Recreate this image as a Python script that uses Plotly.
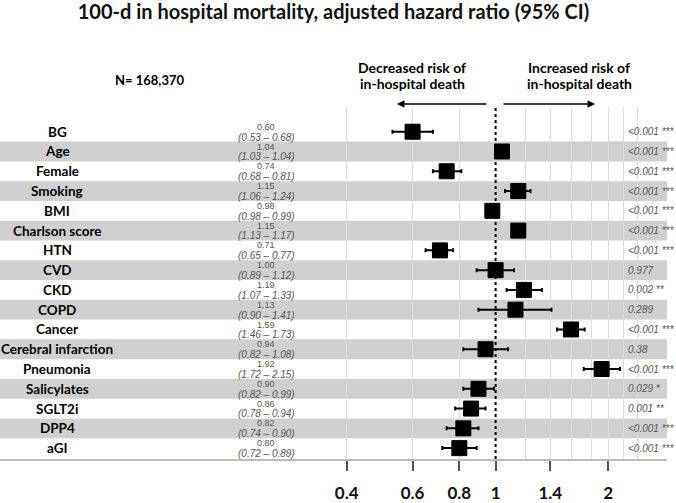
import plotly.graph_objects as go

labels = ["BG", "Age", "Female", "Smoking", "BMI", "Charlson score", "HTN", "CVD", "CKD",
          "COPD", "Cancer", "Cerebral infarction", "Pneumonia", "Salicylates", "SGLT2i", "DPP4", "aGI"]
hr = [0.60, 1.04, 0.74, 1.15, 0.98, 1.15, 0.71, 1.00, 1.19, 1.13, 1.59, 0.94, 1.92, 0.90, 0.86, 0.82, 0.80]
lo = [0.53, 1.03, 0.68, 1.06, 0.98, 1.13, 0.65, 0.89, 1.07, 0.90, 1.46, 0.82, 1.72, 0.82, 0.78, 0.74, 0.72]
hi = [0.68, 1.04, 0.81, 1.24, 0.99, 1.17, 0.77, 1.12, 1.33, 1.41, 1.73, 1.08, 2.15, 0.99, 0.94, 0.90, 0.89]
pvals = ["<0.001 ***", "<0.001 ***", "<0.001 ***", "<0.001 ***", "<0.001 ***", "<0.001 ***", "<0.001 ***",
         "0.977", "0.002 **", "0.289", "<0.001 ***", "0.38", "<0.001 ***", "0.029 *", "0.001 **",
         "<0.001 ***", "<0.001 ***"]
tick_vals = [0.4, 0.6, 0.8, 1, 1.4, 2]
tick_text = ["0.4", "0.6", "0.8", "1", "1.4", "2"]
grid_vals = [0.4, 0.6, 0.8, 1.2, 1.4, 1.6, 1.8, 2, 2.2, 2.4]

title = "100-d in hospital mortality, adjusted hazard ratio (95% CI)"
n_text = "N= 168,370"

rows = list(range(len(labels)))
BOLD = "Lato"
FIG_W, FIG_H = 676, 503
L, R, T, B = 0, 9, 107, 40
PW = FIG_W - L - R
PH = FIG_H - T - B

def px_x(px):
    return (px - L) / PW

def px_y(py):
    return (FIG_H - B - py) / PH

fig = go.Figure()
fig.add_trace(go.Scatter(
    x=hr, y=rows, mode="markers",
    marker=dict(symbol="square", size=15, color="black", line=dict(color="black", width=1)),
    error_x=dict(type="data", symmetric=False,
                 array=[h - m for h, m in zip(hi, hr)],
                 arrayminus=[m - l for m, l in zip(hr, lo)],
                 color="black", thickness=2, width=2),
    showlegend=False, hoverinfo="skip",
))

shapes = []
for i in rows:
    if i % 2 == 1:
        shapes.append(dict(type="rect", xref="paper", yref="y", x0=0, x1=1, y0=i - 0.5, y1=i + 0.5,
                           fillcolor="#d0d0d0", line=dict(width=0), layer="below"))
shapes.append(dict(type="line", xref="x", yref="paper", x0=1, x1=1, y0=0, y1=1,
                   line=dict(color="black", width=2, dash="dot"), layer="between"))

ann = []
for i in rows:
    ann.append(dict(x=px_x(57), y=i, xref="paper", yref="y", text=labels[i], showarrow=False,
                    xanchor="center", yanchor="middle",
                    font=dict(family=BOLD, size=13.5, color="black", weight="bold")))
    ann.append(dict(x=px_x(266), y=i - 0.25, xref="paper", yref="y", text=f"{hr[i]:.2f}",
                    showarrow=False, xanchor="center", yanchor="middle", borderpad=0,
                    font=dict(family="Liberation Sans", size=9, color="#555")))
    ann.append(dict(x=px_x(266), y=i + 0.27, xref="paper", yref="y",
                    text=f"({lo[i]:.2f} \u2013 {hi[i]:.2f})",
                    showarrow=False, xanchor="center", yanchor="middle", borderpad=0,
                    font=dict(family="Liberation Sans", size=10, color="#555", style="italic")))
    ann.append(dict(x=px_x(626), y=i, xref="paper", yref="y", text=pvals[i], showarrow=False,
                    xanchor="left", yanchor="middle",
                    font=dict(family="Liberation Sans", size=10, color="#555", style="italic")))

# header texts
for txt, cx in [("Decreased risk of", 412), ("Increased risk of", 579)]:
    ann.append(dict(x=px_x(cx), y=px_y(67), xref="paper", yref="paper", text=txt, showarrow=False,
                    xanchor="center", yanchor="middle",
                    font=dict(family=BOLD, size=14, color="black", weight="bold")))
    ann.append(dict(x=px_x(cx), y=px_y(83), xref="paper", yref="paper", text="in-hospital death",
                    showarrow=False, xanchor="center", yanchor="middle",
                    font=dict(family=BOLD, size=14, color="black", weight="bold")))
# arrows
ann.append(dict(x=px_x(397), y=px_y(104), xref="paper", yref="paper", ax=91, ay=0, text="",
                showarrow=True, arrowhead=2, arrowsize=1, arrowwidth=1.5, arrowcolor="black"))
ann.append(dict(x=px_x(595), y=px_y(104), xref="paper", yref="paper", ax=-93, ay=0, text="",
                showarrow=True, arrowhead=2, arrowsize=1, arrowwidth=1.5, arrowcolor="black"))
# N
ann.append(dict(x=px_x(149), y=px_y(80), xref="paper", yref="paper", text=n_text, showarrow=False,
                xanchor="center", yanchor="middle",
                font=dict(family=BOLD, size=13, color="black", weight="bold")))

x0_log = -495.6 / 374.2
x1_log = (667 - 495.6) / 374.2

fig.update_layout(
    width=FIG_W, height=FIG_H,
    margin=dict(l=L, r=R, t=T, b=B, pad=0),
    paper_bgcolor="white", plot_bgcolor="white",
    title=dict(text=title, x=px_x(333.5), xref="paper", xanchor="center",
               y=1 - 12 / FIG_H, yref="container", yanchor="middle",
               font=dict(family=BOLD, size=20, color="#111", weight="bold")),
    xaxis=dict(type="log", range=[x0_log, x1_log], tickmode="array", tickvals=tick_vals,
               ticktext=tick_text, showgrid=False,
               ticks="outside", ticklen=10, tickwidth=1.5, tickcolor="#555",
               showline=True, linecolor="#bbbbbb", linewidth=2, zeroline=False,
               ticklabelstandoff=8,
               tickfont=dict(family=BOLD, size=17, color="#111", weight="bold"),
               minor=dict(tickmode="array", tickvals=grid_vals, showgrid=True,
                          gridcolor="#dcdcdc", gridwidth=1, ticks="")),
    yaxis=dict(range=[16.55, -1.25], visible=False, showgrid=False, zeroline=False),
    shapes=shapes, annotations=ann,
)

fig.write_html("out.html")
